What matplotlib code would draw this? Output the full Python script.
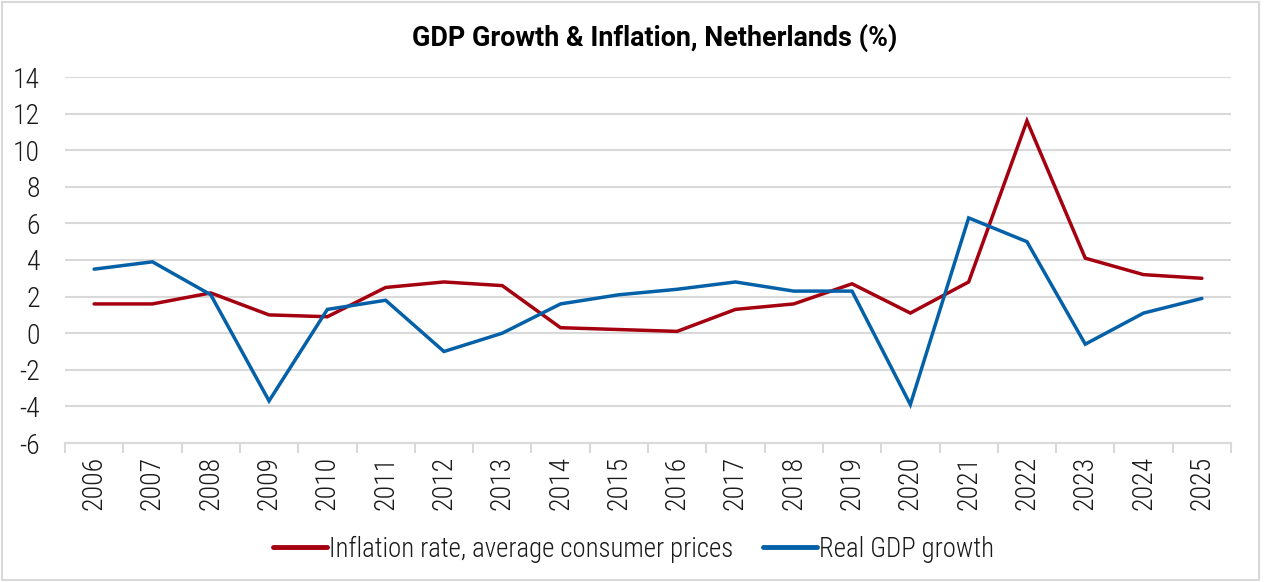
import matplotlib
matplotlib.use("Agg")
import matplotlib.pyplot as plt
from matplotlib import font_manager as fm
from matplotlib.patches import Rectangle
from matplotlib.ticker import FixedLocator, NullFormatter

years = [str(y) for y in range(2006, 2026)]
inflation = [1.6, 1.6, 2.2, 1.0, 0.9, 2.5, 2.8, 2.6, 0.3, 0.2, 0.1, 1.3, 1.6, 2.7, 1.1, 2.8, 11.6, 4.1, 3.2, 3.0]
gdp_growth = [3.5, 3.9, 2.1, -3.7, 1.3, 1.8, -1.0, 0.0, 1.6, 2.1, 2.4, 2.8, 2.3, 2.3, -3.9, 6.3, 5.0, -0.6, 1.1, 1.9]
series_labels = ["Inflation rate, average consumer prices", "Real GDP growth"]
title = "GDP Growth & Inflation, Netherlands (%)"
yticks = list(range(-6, 15, 2))


def find_font(fname_part, fallback_family, weight="normal"):
    for f in fm.fontManager.ttflist:
        if f.fname.split("/")[-1] == fname_part:
            return fm.FontProperties(fname=f.fname)
    return fm.FontProperties(family=fallback_family, weight=weight)


light = find_font("RobotoCondensed-Light.ttf", "Roboto Condensed", "light")
title_fp = find_font("Roboto-Bold.ttf", "Roboto", "bold")

RED = "#A50010"
BLUE = "#0461A8"
GRID = "#D9D9D9"
TXT = "#1a1a1a"
FS = 20

fig = plt.figure(figsize=(12.65, 5.82), dpi=100)
fig.patches.append(Rectangle((0.0015, 0.004), 0.9935, 0.992, transform=fig.transFigure,
                             fill=False, edgecolor=GRID, linewidth=1.5))
ax = fig.add_axes([65 / 1265, (582 - 443) / 582, (1231 - 65) / 1265, (443 - 77) / 582])

x = list(range(len(years)))
ax.plot(x, inflation, color=RED, lw=2.5, label=series_labels[0], solid_capstyle="round", solid_joinstyle="miter")
ax.plot(x, gdp_growth, color=BLUE, lw=2.5, label=series_labels[1], solid_capstyle="round", solid_joinstyle="miter")

ax.set_xlim(-0.5, len(years) - 0.5)
ax.set_ylim(-6, 14)
ax.set_yticks(yticks)
ax.set_yticklabels([str(v) for v in yticks])
ax.set_xticks(x)
ax.set_xticklabels(years, rotation=90)
ax.xaxis.set_minor_locator(FixedLocator([i - 0.5 for i in range(len(years) + 1)]))
ax.xaxis.set_minor_formatter(NullFormatter())
ax.tick_params(axis="x", which="major", length=0, pad=9)
ax.tick_params(axis="x", which="minor", length=7, width=1.5, color=GRID)
ax.tick_params(axis="y", length=0, pad=18)

for lab in ax.get_xticklabels() + ax.get_yticklabels():
    lab.set_fontproperties(light)
    lab.set_fontsize(FS)
    lab.set_color(TXT)

ax.grid(axis="y", color=GRID, lw=1.5)
ax.set_axisbelow(True)
for s in ["top", "right", "left"]:
    ax.spines[s].set_visible(False)
ax.spines["bottom"].set_color(GRID)
ax.spines["bottom"].set_linewidth(1.5)

fig.text(655 / 1265, 1 - 38 / 582, title, ha="center", va="center",
         fontproperties=title_fp, fontsize=19.4, color="black")

leg_fp = light.copy()
leg_fp.set_size(19.3)
leg = fig.legend(loc="center", bbox_to_anchor=(0.501, 1 - 549 / 582), ncol=2, frameon=False,
                 prop=leg_fp, handlelength=2.0, handletextpad=0.1, columnspacing=1.1)
for t in leg.get_texts():
    t.set_color(TXT)
for h in leg.get_lines():
    h.set_linewidth(3.5)

fig.savefig("out.png", dpi=100)
